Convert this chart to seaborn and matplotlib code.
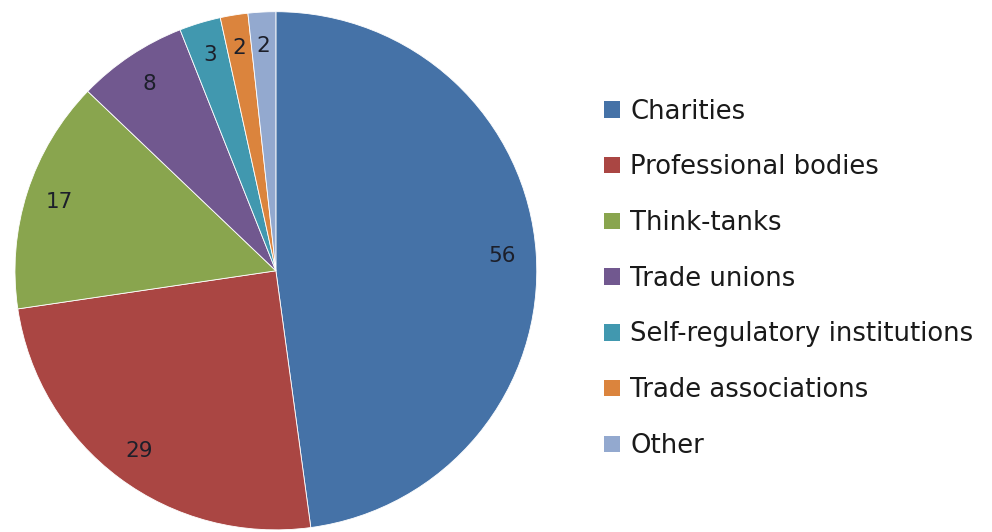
import matplotlib
matplotlib.use("Agg")
import matplotlib.pyplot as plt
import matplotlib.patches as mpatches
import seaborn as sns

# ---------------------------
# Data
# ---------------------------
categories = ["Charities", "Professional bodies", "Think-tanks", "Trade unions",
              "Self-regulatory institutions", "Trade associations", "Other"]
counts = [56, 29, 17, 8, 3, 2, 2]
colors = ["#4572A7", "#AA4643", "#89A54E", "#71588F", "#4198AF", "#DB843D", "#93A9CF"]

# ---------------------------
# Style
# ---------------------------
sns.set_theme(style="white")
plt.rcParams['font.family'] = ['DejaVu Sans']

fig = plt.figure(figsize=(9.92, 5.32), dpi=100)
ax = fig.add_axes([0.0151, 0.004, 0.526, 0.974])

total = sum(counts)
wedges, texts, autotexts = ax.pie(
    counts,
    colors=colors,
    startangle=90,
    counterclock=False,
    autopct=lambda p: f"{p * total / 100:.0f}",
    pctdistance=0.87,
    wedgeprops=dict(edgecolor="white", linewidth=0.6),
    textprops=dict(fontsize=15.5, color="#1c1f2a"),
)
ax.set_xlim(-1, 1)
ax.set_ylim(-1, 1)
ax.set_aspect("auto")
ax.axis("off")

# ---------------------------
# Legend
# ---------------------------
handles = [mpatches.Patch(facecolor=c, edgecolor="none") for c in colors]
fig.legend(
    handles, categories,
    loc="center left",
    bbox_to_anchor=(0.609, 0.476),
    frameon=False,
    fontsize=18.6,
    handlelength=0.6,
    handleheight=0.6,
    handletextpad=0.42,
    labelspacing=1.15,
    borderpad=0,
    borderaxespad=0,
    labelcolor="#1a1a1a",
)

plt.savefig("out.png", dpi=100)
plt.close()
